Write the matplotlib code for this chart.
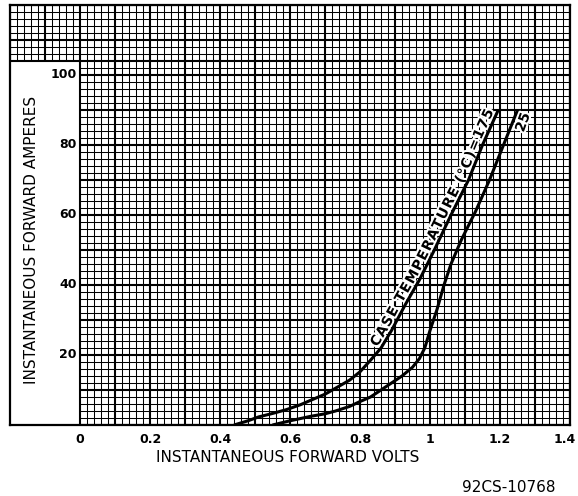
import numpy as np
import matplotlib
matplotlib.use('Agg')
import matplotlib.pyplot as plt
import matplotlib.patheffects as pe

# ---- data ----
volts_175 = [0.44, 0.48, 0.51, 0.55, 0.59, 0.63, 0.66, 0.70, 0.73, 0.77, 0.80,
             0.83, 0.86, 0.89, 0.93, 0.97, 1.01, 1.06, 1.11, 1.15, 1.195]
amps_175 = [0, 1.2, 2.3, 3.3, 4.4, 5.8, 7.1, 8.8, 10.5, 12.8, 15.2,
            18.5, 22, 27, 34.5, 41.5, 49.5, 60, 70, 80, 90]

volts_25 = [0.55, 0.60, 0.66, 0.70, 0.73, 0.77, 0.80, 0.83, 0.86, 0.89, 0.92,
            0.95, 0.97, 0.985, 1.0, 1.02, 1.04, 1.06, 1.09, 1.13, 1.17, 1.21, 1.25]
amps_25 = [0, 1.2, 2.5, 3.2, 4.0, 5.3, 6.7, 8.0, 10, 12, 14,
           16.5, 19, 22, 27, 33, 40, 46, 53, 61, 70, 80, 90]

x_ticks = [0, 0.2, 0.4, 0.6, 0.8, 1.0, 1.2, 1.4]
x_tick_labels = ['0', '0.2', '0.4', '0.6', '0.8', '1', '1.2', '1.4']
y_ticks = [20, 40, 60, 80, 100]
y_tick_labels = ['20', '40', '60', '80', '100']

label_175 = 'CASE TEMPERATURE (°C)=175'
label_25 = '25'
x_title = 'INSTANTANEOUS FORWARD VOLTS'
y_title = 'INSTANTANEOUS FORWARD AMPERES'
footer = '92CS-10768'

# ---- figure ----
W, H = 578, 496
fig = plt.figure(figsize=(W / 100, H / 100), dpi=100)
ax = fig.add_axes([10 / W, 71 / H, 560 / W, 420 / H])
ax.set_xlim(-0.2, 1.4)
ax.set_ylim(0, 120)
ax.set_xticks([])
ax.set_yticks([])
for sp in ax.spines.values():
    sp.set_linewidth(1.6)
    sp.set_zorder(6)

box_top = 104
# vertical grid lines (every 0.02 V, heavy every 0.1 V)
for k in range(-10, 71):
    x = k * 0.02
    lw = 1.5 if k % 5 == 0 else 0.75
    y0 = 0 if k >= 0 else box_top
    ax.vlines(x, y0, 120, color='k', lw=lw, zorder=1)
# horizontal grid lines (every 2 A, heavy every 10 A)
for j in range(0, 61):
    y = 2 * j
    lw = 1.5 if (j % 5 == 0 or y == box_top) else 0.75
    x0 = 0 if y < box_top else -0.2
    ax.hlines(y, x0, 1.4, color='k', lw=lw, zorder=1)

# curves
ax.plot(volts_175, amps_175, color='k', lw=2.2, zorder=4, solid_capstyle='butt')
ax.plot(volts_25, amps_25, color='k', lw=2.2, zorder=4, solid_capstyle='butt')

tfont = dict(family='DejaVu Sans', fontweight='bold', fontsize=9)
for xv, lab in zip(x_ticks, x_tick_labels):
    if xv >= 1.4:
        ax.text(1.417, -2.4, lab, ha='right', va='top', clip_on=False, **tfont)
    else:
        ax.text(xv, -2.4, lab, ha='center', va='top', clip_on=False, **tfont)
for yv, lab in zip(y_ticks, y_tick_labels):
    ax.text(-0.009, yv, lab, ha='right', va='center', zorder=5, **tfont)

lfont = dict(family='DejaVu Sans', fontsize=11)
fig.text(288 / W, 1 - 457 / H, x_title, ha='center', va='center', **lfont)
fig.text(32 / W, 1 - 240 / H, y_title, ha='center', va='center', rotation=90, **lfont)
fig.text(509 / W, 1 - 487 / H, footer, ha='center', va='center', **lfont)

# ---- curve label placed along the 175 C curve ----
fig.canvas.draw()
renderer = fig.canvas.get_renderer()
pts = ax.transData.transform(np.column_stack([volts_175, amps_175]))
seg = np.hypot(np.diff(pts[:, 0]), np.diff(pts[:, 1]))
s = np.concatenate([[0], np.cumsum(seg)])
cfont = dict(family='DejaVu Sans', fontweight='bold', fontsize=10)
widths = []
for ch in label_175:
    if ch == ' ':
        widths.append(4.5)
        continue
    t = fig.text(0, 0, ch, **cfont)
    widths.append(t.get_window_extent(renderer).width)
    t.remove()
track = 1.2
total = sum(widths) + track * (len(widths) - 1)
s_end = s[-1] - 3
s_start = s_end - total


def at(sv):
    return np.array([np.interp(sv, s, pts[:, 0]), np.interp(sv, s, pts[:, 1])])


pos = s_start
inv = ax.transData.inverted()
for ch, w in zip(label_175, widths):
    sc = pos + w / 2
    pos += w + track
    if ch == ' ':
        continue
    p1, p2 = at(sc - 7), at(sc + 7)
    ang = np.arctan2(p2[1] - p1[1], p2[0] - p1[0])
    p = at(sc) + 3.5 * np.array([-np.sin(ang), np.cos(ang)])
    xd, yd = inv.transform(p)
    ax.text(xd, yd, ch, rotation=np.degrees(ang), rotation_mode='anchor',
            ha='center', va='baseline', zorder=3,
            path_effects=[pe.withStroke(linewidth=3, foreground='white')], **cfont)

ax.text(1.266, 86.5, label_25, rotation=70, rotation_mode='anchor', ha='center',
        va='center', zorder=3,
        path_effects=[pe.withStroke(linewidth=3, foreground='white')], **cfont)

fig.savefig('out.png', dpi=100)
